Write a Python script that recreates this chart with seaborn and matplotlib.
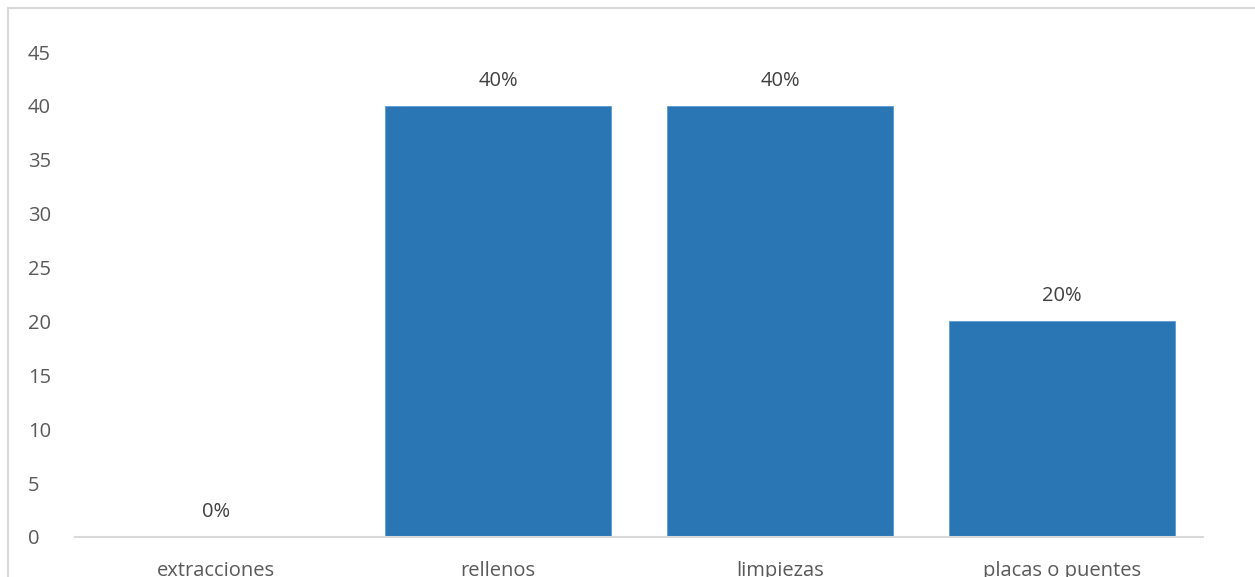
import matplotlib
matplotlib.use("Agg")
import matplotlib.pyplot as plt
import seaborn as sns
import pandas as pd
from matplotlib.patches import Rectangle

categories = ["extracciones", "rellenos", "limpiezas", "placas o puentes"]
values = [0, 40, 40, 20]
labels = ["0%", "40%", "40%", "20%"]
yticks = [0, 5, 10, 15, 20, 25, 30, 35, 40, 45]

sns.set_style("white")
plt.rcParams['font.family'] = ['Open Sans', 'DejaVu Sans']

W, H = 1255, 577
fig = plt.figure(figsize=(W / 100, H / 100), dpi=100)
ax = fig.add_axes([75 / W, 40 / H, (1203 - 75) / W, (537 - 52) / H])

df = pd.DataFrame({"cat": categories, "val": values})
sns.barplot(data=df, x="cat", y="val", ax=ax, color="#2A75B4", saturation=1,
            width=0.8, edgecolor="#5B9BD5", linewidth=0.6)

ax.set_xlim(-0.5, 3.5)
ax.set_ylim(0, 45)
ax.set_yticks(yticks)
ax.set_yticklabels([str(t) for t in yticks])
ax.set_xlabel("")
ax.set_ylabel("")
for s in ["top", "right", "left"]:
    ax.spines[s].set_visible(False)
ax.spines["bottom"].set_color("#D9D9D9")
ax.spines["bottom"].set_linewidth(1.5)
ax.tick_params(axis="both", length=0, labelsize=14.5, colors="#595959")
ax.tick_params(axis="y", pad=34)
ax.tick_params(axis="x", pad=17)
for lbl in ax.get_yticklabels():
    lbl.set_horizontalalignment("left")
ax.grid(False)

for i, (v, t) in enumerate(zip(values, labels)):
    ax.annotate(t, xy=(i, v), xytext=(0, 18), textcoords="offset points",
                ha="center", va="center", fontsize=14.5, color="#404040")

fig.patches.append(Rectangle((8 / W, -0.1), 1.2, (577 - 8) / H + 0.1,
                             transform=fig.transFigure, fill=False,
                             edgecolor="#D9D9D9", linewidth=1.5))

fig.savefig("out.png", dpi=100)
